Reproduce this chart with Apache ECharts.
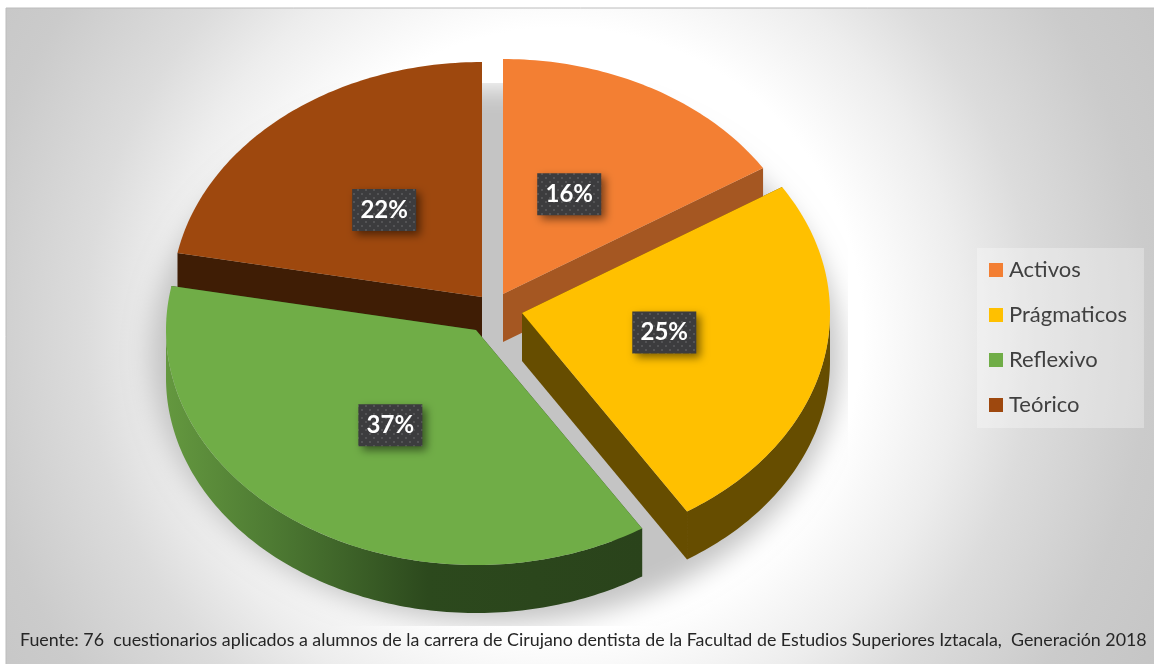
<!DOCTYPE html>
<html>
<head>
<meta charset="utf-8">
<title>Estilos de aprendizaje</title>
<style>
	html, body { margin: 0; padding: 0; background: #fff; }
	#main { width: 1154px; height: 664px; }
</style>
<script src="https://cdn.jsdelivr.net/npm/echarts@6/dist/echarts.min.js"></script>
</head>
<body>
<div id="main"></div>
<script>
// datos
var categories = ['Activos', 'Prágmaticos', 'Reflexivo', 'Teórico'];
var values = [16, 25, 37, 22];
var footnote = 'Fuente: 76  cuestionarios aplicados a alumnos de la carrera de Cirujano dentista de la Facultad de Estudios Superiores Iztacala,  Generación 2018';

// estilo
var topColors = ['#F37F33', '#FFC000', '#70AD47', '#9E480E'];
var wallColors = ['#A55722', '#664D00', '#2B471C', '#3F1D05'];
var explode = [[503, 294], [522, 313], [476, 330], [482, 297]];
var radiusX = [308, 308, 310, 310];
var labelNudge = [[-5, -1], [-2, -5], [-2, 2], [-3, 0]];
var drawOrder = [2, 3, 4, 1];
var ry = 235, depth = 48, labelRatio = 0.48;

var chart = echarts.init(document.getElementById('main'));

// puntitos del fondo de las etiquetas
var dots = document.createElement('canvas');
dots.width = 8;
dots.height = 8;
var dotsCtx = dots.getContext('2d');
dotsCtx.fillStyle = '#3C3C3E';
dotsCtx.fillRect(0, 0, 8, 8);
dotsCtx.fillStyle = '#535355';
dotsCtx.fillRect(1, 1, 2, 2);
dotsCtx.fillRect(5, 5, 2, 2);

var total = values.reduce(function (a, b) { return a + b; }, 0);

function onEllipse(c, rx, deg, shift) {
	var t = deg * Math.PI / 180;
	return [c[0] + rx * Math.sin(t), c[1] - ry * Math.cos(t) + (shift || 0)];
}

function arcPoints(c, rx, from, to, shift) {
	var pts = [];
	var steps = Math.max(2, Math.ceil(to - from));
	for (var i = 0; i <= steps; i++) {
		pts.push(onEllipse(c, rx, from + (to - from) * i / steps, shift));
	}
	return pts;
}

function cutWall(c, rx, deg, color) {
	var p = onEllipse(c, rx, deg);
	return {
		type: 'polygon',
		shape: { points: [c, p, [p[0], p[1] + depth], [c[0], c[1] + depth]] },
		style: { fill: color }
	};
}

function makeRenderItem(index) {
	return function (params, api) {
		var value = api.value(0);
		var from = 0;
		for (var i = 0; i < index; i++) from += values[i] / total * 360;
		var to = from + value / total * 360;
		var c = explode[index];
		var rx = radiusX[index];
		var children = [cutWall(c, rx, from, wallColors[index]), cutWall(c, rx, to, wallColors[index])];

		// pared curva, solo la mitad de abajo se ve
		var a = Math.max(from, 90), b = Math.min(to, 270);
		if (b > a) {
			var wallFill = wallColors[index];
			if (categories[index] === 'Reflexivo') {
				wallFill = new echarts.graphic.LinearGradient(0, 0, 1, 0, [
					{ offset: 0, color: '#64983F' },
					{ offset: 0.22, color: '#4E7B33' },
					{ offset: 0.55, color: '#2C491D' },
					{ offset: 1, color: '#2A431B' }
				]);
			}
			children.push({
				type: 'polygon',
				shape: { points: arcPoints(c, rx, a, b).concat(arcPoints(c, rx, a, b, depth).reverse()) },
				style: { fill: wallFill }
			});
		}

		children.push({
			type: 'polygon',
			shape: { points: [c].concat(arcPoints(c, rx, from, to)) },
			style: { fill: topColors[index] }
		});

		var mid = onEllipse([0, 0], rx, (from + to) / 2);
		var lx = c[0] + mid[0] * labelRatio + labelNudge[index][0];
		var ly = c[1] + mid[1] * labelRatio + labelNudge[index][1];
		children.push({
			type: 'rect',
			shape: { x: lx - 32, y: ly - 21, width: 64, height: 42 },
			style: {
				fill: { image: dots, repeat: 'repeat' },
				shadowBlur: 8,
				shadowOffsetX: 4,
				shadowOffsetY: 4,
				shadowColor: 'rgba(0,0,0,0.5)'
			}
		});
		children.push({
			type: 'text',
			x: lx,
			y: ly,
			style: {
				text: value + '%',
				fill: '#fff',
				font: 'bold 24px Lato',
				align: 'center',
				verticalAlign: 'middle'
			}
		});
		return { type: 'group', children: children };
	};
}

var bgGradient = {
	type: 'radial', global: true, x: 560, y: 330, r: 720,
	colorStops: [
		{ offset: 0, color: '#FFFFFF' },
		{ offset: 0.42, color: '#FFFFFF' },
		{ offset: 0.56, color: '#EDEDED' },
		{ offset: 0.66, color: '#DCDCDC' },
		{ offset: 0.82, color: '#CBCBCB' },
		{ offset: 1, color: '#C3C3C3' }
	]
};

chart.setOption({
	animation: false,
	backgroundColor: '#fff',
	title: {
		text: footnote,
		left: 20,
		top: 631,
		padding: 0,
		textStyle: { fontFamily: 'Lato', fontSize: 17.84, fontWeight: 'normal', color: '#262626' }
	},
	legend: {
		data: categories,
		orient: 'vertical',
		left: 977,
		top: 248,
		padding: [11, 17, 12, 12],
		itemGap: 23,
		itemWidth: 14,
		itemHeight: 14,
		icon: 'rect',
		selectedMode: false,
		backgroundColor: 'rgba(255,255,255,0.3)',
		textStyle: { fontFamily: 'Lato', fontSize: 22, color: '#404040', lineHeight: 22, padding: [0, 0, 0, 1] }
	},
	graphic: {
		elements: [
			{ type: 'rect', z: -5, silent: true, shape: { x: 6, y: 8, width: 1160, height: 670 }, style: { fill: bgGradient, stroke: '#BCBCBC', lineWidth: 1 } },
			{
				// la forma queda fuera del lienzo, solo se ve su sombra difusa
				type: 'ellipse', z: -4, silent: true,
				shape: { cx: 495 - 2000, cy: 355, rx: 345, ry: 268 },
				style: { fill: '#000', shadowBlur: 26, shadowOffsetX: 2000, shadowColor: '#C4C4C4' }
			},
			// la sombra queda recortada en un rectangulo
			{ type: 'rect', z: -3, silent: true, shape: { x: 7, y: 626, width: 1147, height: 38 }, style: { fill: bgGradient } },
			{ type: 'rect', z: -3, silent: true, shape: { x: 848, y: 9, width: 306, height: 655 }, style: { fill: bgGradient } },
			{ type: 'rect', z: -3, silent: true, shape: { x: 7, y: 9, width: 1147, height: 74 }, style: { fill: bgGradient } }
		]
	},
	series: categories.map(function (name, i) {
		return {
			type: 'custom',
			name: name,
			z: drawOrder[i],
			silent: true,
			coordinateSystem: 'none',
			itemStyle: { color: topColors[i] },
			renderItem: makeRenderItem(i),
			data: [[values[i]]]
		};
	})
});
</script>
</body>
</html>
